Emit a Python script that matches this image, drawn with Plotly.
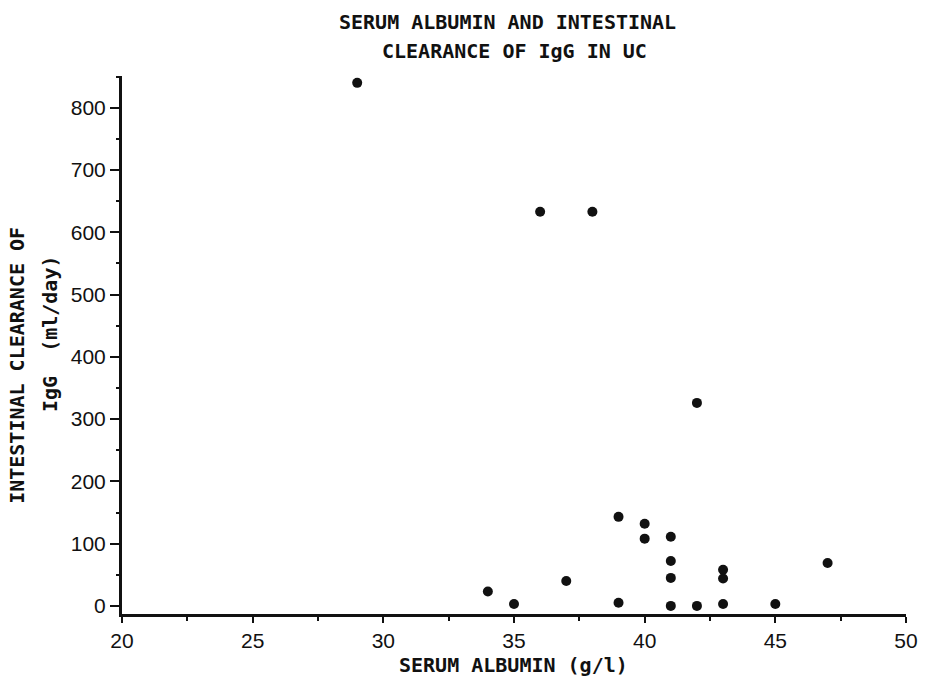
import plotly.graph_objects as go

# serum albumin (g/l) vs intestinal clearance of IgG (ml/day)
albumin = [29, 36, 38, 42, 39, 40, 40, 41, 41, 41, 41, 42, 43, 43, 43, 45, 47, 34, 35, 37, 39]
clearance = [840, 633, 633, 326, 143, 132, 108, 111, 72, 45, 0, 0, 58, 44, 3, 3, 69, 23, 3, 40, 5]

x_ticks = [20, 25, 30, 35, 40, 45, 50]
y_ticks = [0, 100, 200, 300, 400, 500, 600, 700, 800]

TEXT_FONT = "DejaVu Sans Mono, Liberation Mono, monospace"
TICK_FONT = "Liberation Sans, Arial, sans-serif"
INK = "#111111"

fig = go.Figure()
fig.add_trace(go.Scatter(
    x=albumin, y=clearance, mode="markers",
    marker=dict(color=INK, size=10, line=dict(width=0)),
    showlegend=False, cliponaxis=False,
))

fig.update_layout(
    width=926, height=685,
    margin=dict(l=122, r=20, t=76, b=71),
    paper_bgcolor="white", plot_bgcolor="white",
    font=dict(family=TICK_FONT, color=INK, size=21),
    showlegend=False,
)

fig.update_xaxes(
    range=[20, 50], tickvals=x_ticks, ticktext=[str(v) for v in x_ticks],
    showgrid=False, zeroline=False, automargin=False,
    showline=True, linecolor=INK, linewidth=3,
    ticks="outside", ticklen=6, tickwidth=2, tickcolor=INK,
    minor=dict(ticks="outside", dtick=2.5, tick0=20, ticklen=4, tickwidth=2, tickcolor=INK),
    tickfont=dict(size=21, family=TICK_FONT),
)
fig.update_yaxes(
    range=[-13, 851], tickvals=y_ticks, ticktext=[str(v) for v in y_ticks],
    showgrid=False, zeroline=False, automargin=False,
    showline=True, linecolor=INK, linewidth=3,
    ticks="outside", ticklen=9, tickwidth=2, tickcolor=INK,
    minor=dict(ticks="outside", dtick=50, tick0=0, ticklen=3, tickwidth=2, tickcolor=INK),
    tickfont=dict(size=21, family=TICK_FONT),
)

# titles as separate annotations so each line can sit where the scan has it
labels = [
    ("SERUM ALBUMIN AND INTESTINAL", 0.492, 1.100, 0),
    ("CLEARANCE OF IgG IN UC", 0.501, 1.046, 0),
    ("SERUM ALBUMIN (g/l)", 0.499, -0.095, 0),
    ("INTESTINAL CLEARANCE OF", -0.134, 0.463, -90),
    ("IgG  (ml/day)", -0.092, 0.522, -90),
]
for text, ax, ay, angle in labels:
    fig.add_annotation(
        text=text, xref="paper", yref="paper", x=ax, y=ay,
        xanchor="center", yanchor="middle", showarrow=False, textangle=angle,
        font=dict(size=20, family=TEXT_FONT, color=INK, weight="bold"),
    )

# the page body has a default 8px margin; drop it so the figure sits at 0,0
fig.write_html("out.html", config={"displayModeBar": False},
               post_script="document.body.style.margin='0';")
